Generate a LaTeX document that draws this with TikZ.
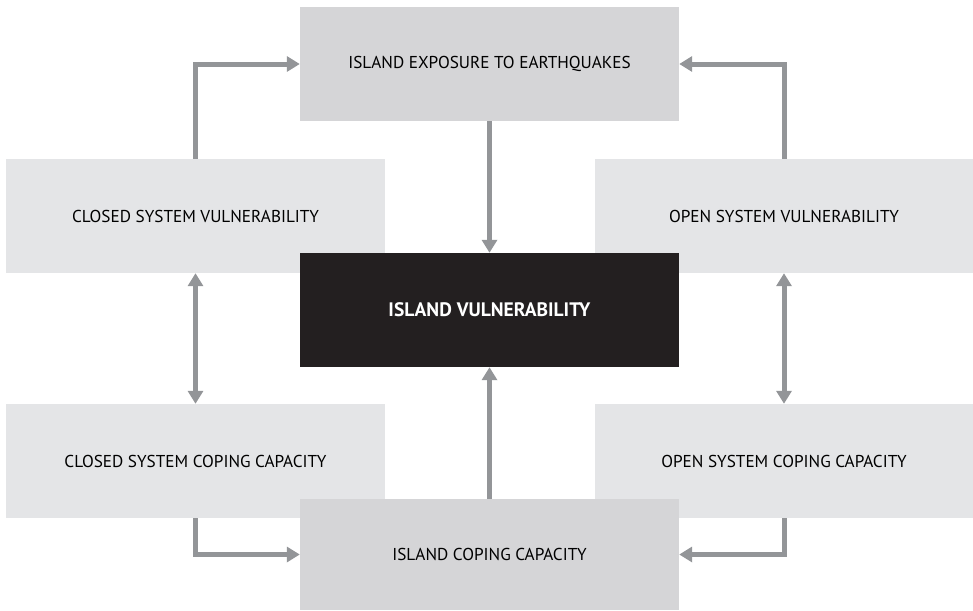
\documentclass[tikz,border=0pt]{standalone}
\usepackage{fontspec}
\setmainfont{PT Sans}
\usepackage{tikz}
\usetikzlibrary{arrows.meta}

\definecolor{sidegrey}{HTML}{E4E5E7}
\definecolor{maingrey}{HTML}{D5D5D7}
\definecolor{coreblack}{HTML}{231F20}
\definecolor{arrowgrey}{HTML}{939598}

\tikzset{
    box/.style = {minimum width = 379pt, minimum height = 114pt, inner sep = 0pt, font = \fontsize{17.2}{20}\selectfont},
    sidebox/.style = {box, fill = sidegrey},
    mainbox/.style = {box, fill = maingrey},
    corebox/.style = {box, fill = coreblack, text = white, font = \fontsize{19.5}{22}\selectfont\bfseries},
    flow/.style = {draw = arrowgrey, line width = 5pt, -{Triangle[width = 15pt, length = 13pt]}},
    twoway/.style = {draw = arrowgrey, line width = 5pt, {Triangle[width = 15pt, length = 13pt]}-{Triangle[width = 15pt, length = 13pt]}}
}

\begin{document}
\begin{tikzpicture}[x = 1pt, y = -1pt]
    \useasboundingbox (0, 0) rectangle (973, 610);

    % side boxes
    \node[sidebox] (closedvul) at (195.5, 216) {CLOSED SYSTEM VULNERABILITY};
    \node[sidebox] (openvul) at (784, 216) {OPEN SYSTEM VULNERABILITY};
    \node[sidebox] (closedcop) at (195.5, 461) {CLOSED SYSTEM COPING CAPACITY};
    \node[sidebox] (opencop) at (784, 461) {OPEN SYSTEM COPING CAPACITY};

    % exposure on top, coping capacity at the bottom
    \node[mainbox] (expo) at (489.5, 64) {ISLAND EXPOSURE TO EARTHQUAKES};
    \node[mainbox, minimum height = 111pt] (islandcop) at (489.5, 554.5) {ISLAND COPING CAPACITY};

    % centre
    \node[corebox] (islandvul) at (489.5, 310) {ISLAND VULNERABILITY};

    \draw[flow] (expo.south) -- (islandvul.north);
    \draw[flow] (islandcop.north) -- (islandvul.south);

    \draw[flow] (closedvul.north) |- (expo.west);
    \draw[flow] (openvul.north) |- (expo.east);
    \draw[flow] (closedcop.south) |- (islandcop.west);
    \draw[flow] (opencop.south) |- (islandcop.east);

    \draw[twoway] (closedvul.south) -- (closedcop.north);
    \draw[twoway] (openvul.south) -- (opencop.north);

\end{tikzpicture}
\end{document}
